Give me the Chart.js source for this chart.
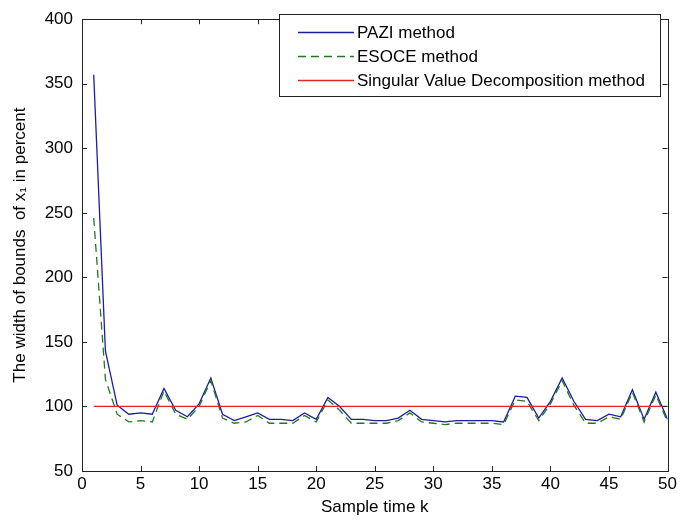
<!DOCTYPE html>
<html>
<head>
<meta charset="utf-8">
<script src="https://cdn.jsdelivr.net/npm/chart.js@4/dist/chart.umd.min.js"></script>
<style>
  html, body { margin: 0; padding: 0; background: #fff; }
  #wrap { width: 680px; height: 523px; }
</style>
</head>
<body>
<div id="wrap"><canvas id="c" width="680" height="523"></canvas></div>
<script>
const sampleK = [1,2,3,4,5,6,7,8,9,10,11,12,13,14,15,16,17,18,19,20,21,22,23,24,25,26,27,28,29,30,31,32,33,34,35,36,37,38,39,40,41,42,43,44,45,46,47,48,49,50];
const paziValues = [357,143,101,94,95,94,114,97,92,102,122,94,89,92,95,90,90,89,95,90,107,100,90,90,89,89,91,97,90,89,88,89,89,89,89,88,108,107,91,104,122,104,90,89,94,92,113,90,111,90];
const esoceValues = [246,121,94,88,89,88,112,94,90,100,120,91,87,88,93,87,87,87,93,88,105,97,87,87,87,87,89,95,88,87,86,87,87,87,87,86,105,104,89,102,120,101,87,87,92,90,111,88,109,88];
const svdValues = [100,100,100,100,100,100,100,100,100,100,100,100,100,100,100,100,100,100,100,100,100,100,100,100,100,100,100,100,100,100,100,100,100,100,100,100,100,100,100,100,100,100,100,100,100,100,100,100,100,100];
const seriesLabels = ['PAZI method', 'ESOCE method', 'Singular Value Decomposition method'];
const xTitle = 'Sample time k';
const yTitle = 'The width of bounds  of x\u2081 in percent';

const FONT = '"Liberation Sans", Arial, Helvetica, sans-serif';
const pts = (vals) => vals.map((v, i) => ({ x: sampleK[i], y: v }));

const boxPlugin = {
  id: 'matlabBox',
  afterDraw(chart) {
    const { ctx, chartArea: a, scales } = chart;
    ctx.save();
    ctx.strokeStyle = '#222';
    ctx.lineWidth = 1;
    ctx.strokeRect(Math.round(a.left) + 0.5, Math.round(a.top) + 0.5,
                   Math.round(a.right - a.left), Math.round(a.bottom - a.top));
    const tl = 5;
    ctx.beginPath();
    scales.x.ticks.forEach(t => {
      const px = Math.round(scales.x.getPixelForValue(t.value)) + 0.5;
      ctx.moveTo(px, a.bottom); ctx.lineTo(px, a.bottom - tl);
      ctx.moveTo(px, a.top); ctx.lineTo(px, a.top + tl);
    });
    scales.y.ticks.forEach(t => {
      const py = Math.round(scales.y.getPixelForValue(t.value)) + 0.5;
      ctx.moveTo(a.left, py); ctx.lineTo(a.left + tl, py);
      ctx.moveTo(a.right, py); ctx.lineTo(a.right - tl, py);
    });
    ctx.stroke();

    // legend box
    const lx = 279, ly = 14, lw = 381, lh = 82;
    ctx.fillStyle = '#fff';
    ctx.fillRect(lx, ly, lw, lh);
    ctx.strokeStyle = '#222';
    ctx.strokeRect(lx + 0.5, ly + 0.5, lw, lh);
    const rows = [32, 56, 80];
    const ds = chart.data.datasets;
    ds.forEach((d, i) => {
      const y = rows[i] + 0.5;
      ctx.beginPath();
      ctx.strokeStyle = d.borderColor;
      ctx.lineWidth = d.borderWidth;
      ctx.setLineDash(d.borderDash || []);
      ctx.moveTo(298, y); ctx.lineTo(354, y);
      ctx.stroke();
      ctx.setLineDash([]);
      ctx.fillStyle = '#000';
      ctx.font = '17px ' + FONT;
      ctx.textAlign = 'left';
      ctx.textBaseline = 'middle';
      ctx.fillText(d.label, 357, rows[i] + 1);
    });
    ctx.restore();
  }
};

new Chart(document.getElementById('c'), {
  type: 'line',
  data: {
    datasets: [
      { label: seriesLabels[0], data: pts(paziValues), borderColor: '#1c1ca6', borderWidth: 1.3, pointRadius: 0, fill: false, tension: 0, order: 2 },
      { label: seriesLabels[1], data: pts(esoceValues), borderColor: '#1f7a1f', borderWidth: 1.3, borderDash: [8, 5], pointRadius: 0, fill: false, tension: 0, order: 1 },
      { label: seriesLabels[2], data: pts(svdValues), borderColor: '#e3232b', borderWidth: 1.3, pointRadius: 0, fill: false, tension: 0, order: 0 }
    ]
  },
  options: {
    responsive: false,
    animation: false,
    layout: { padding: { left: 0, top: 14, right: 11, bottom: 0 } },
    plugins: { legend: { display: false }, tooltip: { enabled: false } },
    scales: {
      x: {
        type: 'linear', min: 0, max: 50,
        ticks: { stepSize: 5, color: '#000', font: { family: FONT, size: 17 }, padding: 3, maxRotation: 0 },
        grid: { display: false, drawTicks: false },
        border: { display: false },
        title: { display: true, text: xTitle, color: '#000', font: { family: FONT, size: 17 }, padding: { top: 0, bottom: 5 } },
        afterFit(s) { s.height = 52; }
      },
      y: {
        type: 'linear', min: 50, max: 400,
        ticks: { stepSize: 50, color: '#000', font: { family: FONT, size: 17 }, padding: 9 },
        grid: { display: false, drawTicks: false },
        border: { display: false },
        title: { display: true, text: yTitle, color: '#000', font: { family: FONT, size: 17 }, padding: { top: 10, bottom: 0 } },
        afterFit(s) { s.width = 82; }
      }
    }
  },
  plugins: [boxPlugin]
});
</script>
</body>
</html>
